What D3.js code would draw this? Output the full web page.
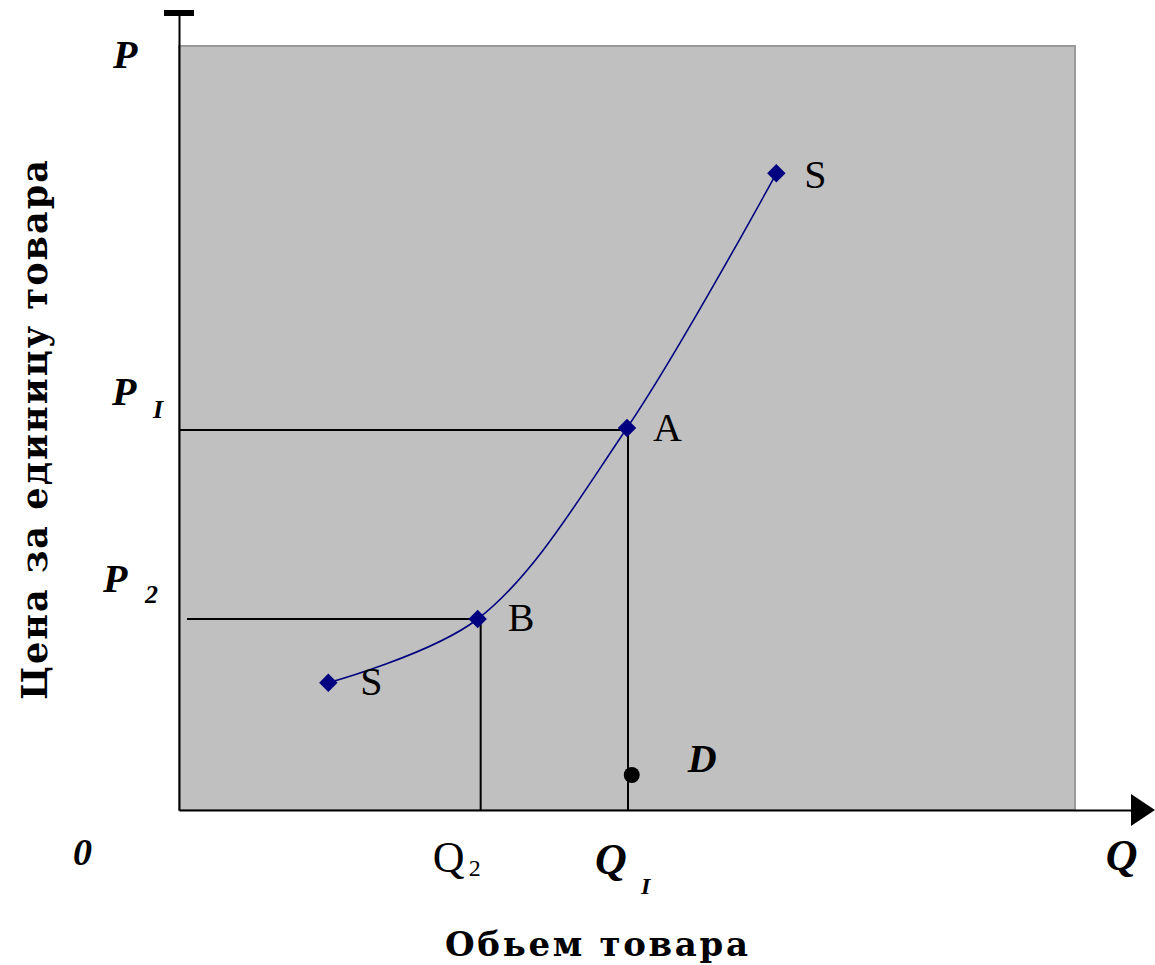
<!DOCTYPE html>
<html><head><meta charset="utf-8">
<script src="https://cdn.jsdelivr.net/npm/d3@7"></script>
<style>html,body{margin:0;padding:0;background:#fff;}svg{display:block;}</style>
</head><body>
<script>
// ---- data ----
const supplyQ = [2, 4, 6, 8];
const supplyP = [2, 3, 6, 10];
const supplyLabels = ["S", "B", "A", "S"];
const demandQ = [6.05];
const demandP = [0.55];
const demandLabels = ["D"];
const guideQ = [4, 6];          // Q2, Q1 guide lines
const guideP = [3, 6];          // P2, P1 guide lines
const yTickValues = [12, 6, 3];
const yTickMain = ["P", "P", "P"];
const yTickSub = ["", "I", "2"];
const xTickValues = [0, 4, 6, 12.6];
const xTickMain = ["0", "Q", "Q", "Q"];
const xTickSub = ["", "2", "I", ""];
const xTitle = "Обьем товара";
const yTitle = "Цена за единицу товара";

const W = 1155, H = 965;
const svg = d3.select("body").append("svg").attr("width", W).attr("height", H)
  .style("background", "#fff");

const x = d3.scaleLinear().domain([0, 12]).range([179, 1075]);
const y = d3.scaleLinear().domain([0, 12]).range([810, 46]);

// plot background
svg.append("rect").attr("x", x(0)).attr("y", y(12))
  .attr("width", x(12) - x(0)).attr("height", y(0) - y(12))
  .attr("fill", "#c0c0c0").attr("stroke", "#9a9a9a").attr("stroke-width", 2);

// guide lines
const gl = svg.append("g").attr("stroke", "#000").attr("stroke-width", 2);
gl.append("line").attr("x1", x(0)).attr("x2", x(guideQ[1])).attr("y1", y(guideP[1]) + 2).attr("y2", y(guideP[1]) + 2);
gl.append("line").attr("x1", x(0) + 8).attr("x2", x(guideQ[0])).attr("y1", y(guideP[0])).attr("y2", y(guideP[0]));
gl.append("line").attr("x1", x(guideQ[0]) + 3).attr("x2", x(guideQ[0]) + 3).attr("y1", y(guideP[0])).attr("y2", y(0));
gl.append("line").attr("x1", x(guideQ[1]) + 1).attr("x2", x(guideQ[1]) + 1).attr("y1", y(guideP[1])).attr("y2", y(0));

// axes
const yAxisScale = d3.scaleLinear().domain([0, y.invert(13)]).range([y(0), 13]);
svg.append("g").attr("transform", `translate(${x(0)},0)`)
  .call(d3.axisLeft(yAxisScale).tickValues([]).tickSizeOuter(0))
  .call(g => g.select(".domain").attr("stroke", "#000").attr("stroke-width", 2));
svg.append("rect").attr("x", x(0) - 15).attr("y", 10).attr("width", 30).attr("height", 6).attr("fill", "#000");

const xAxisScale = d3.scaleLinear().domain([0, x.invert(1135)]).range([x(0), 1135]);
svg.append("g").attr("transform", `translate(0,${y(0)})`)
  .call(d3.axisBottom(xAxisScale).tickValues([]).tickSizeOuter(0))
  .call(g => g.select(".domain").attr("stroke", "#000").attr("stroke-width", 2));
svg.append("path").attr("d", `M1131,794 L1155,810 L1131,826 Z`).attr("fill", "#000");

// supply curve
const pts = supplyQ.map((q, i) => [x(q), y(supplyP[i])]);
svg.append("path").attr("d", d3.line().curve(d3.curveCatmullRom.alpha(0.5))(pts))
  .attr("fill", "none").attr("stroke", "#000080").attr("stroke-width", 1.6);
svg.selectAll(".mk").data(pts).enter().append("path")
  .attr("d", d3.symbol(d3.symbolSquare, 170)())
  .attr("transform", d => `translate(${d[0]},${d[1]}) rotate(45)`)
  .attr("fill", "#000080");

const serif = "'Liberation Serif', 'Times New Roman', serif";
const lblOff = [[32, 12], [30, 12], [26, 13], [28, 15]];
svg.selectAll(".sl").data(pts).enter().append("text")
  .attr("x", (d, i) => d[0] + lblOff[i][0]).attr("y", (d, i) => d[1] + lblOff[i][1])
  .attr("font-family", serif).attr("font-size", 40)
  .text((d, i) => supplyLabels[i]);

// demand point
svg.selectAll(".dp").data(demandQ).enter().append("circle")
  .attr("cx", d => x(d) + 1).attr("cy", (d, i) => y(demandP[i])).attr("r", 8).attr("fill", "#000");
svg.selectAll(".dl").data(demandQ).enter().append("text")
  .attr("x", d => x(d) + 57).attr("y", (d, i) => y(demandP[i]) - 3)
  .attr("font-family", serif).attr("font-size", 40).attr("font-weight", "bold").attr("font-style", "italic")
  .text((d, i) => demandLabels[i]);

// y tick labels
const yOff = [[-66, 22, 0, 0], [-67, -23, 41, 13], [-76, -27, 42, 11]];
yTickValues.forEach((v, i) => {
  svg.append("text").attr("x", x(0) + yOff[i][0]).attr("y", y(v) + yOff[i][1])
    .attr("font-family", serif).attr("font-size", 40).attr("font-weight", "bold").attr("font-style", "italic")
    .text(yTickMain[i]);
  if (yTickSub[i]) {
    svg.append("text").attr("x", x(0) + yOff[i][0] + yOff[i][2]).attr("y", y(v) + yOff[i][1] + yOff[i][3])
      .attr("font-family", serif).attr("font-size", 26).attr("font-weight", "bold").attr("font-style", "italic")
      .text(yTickSub[i]);
  }
});

// x tick labels
const xStyle = [
  {dx: -106, dy: 55, italic: true, bold: true, subdx: 0, subdy: 0, subsize: 22, size: 38},
  {dx: -45, dy: 62, italic: false, bold: false, subdx: 36, subdy: 4, subsize: 24, size: 44},
  {dx: -32, dy: 64, italic: true, bold: true, subdx: 46, subdy: 20, subsize: 24, size: 44},
  {dx: -14, dy: 60, italic: true, bold: true, subdx: 0, subdy: 0, subsize: 22, size: 44}
];
xTickValues.forEach((v, i) => {
  const s = xStyle[i];
  svg.append("text").attr("x", x(v) + s.dx).attr("y", y(0) + s.dy)
    .attr("font-family", serif).attr("font-size", s.size)
    .attr("font-weight", s.bold ? "bold" : "normal").attr("font-style", s.italic ? "italic" : "normal")
    .text(xTickMain[i]);
  if (xTickSub[i]) {
    svg.append("text").attr("x", x(v) + s.dx + s.subdx).attr("y", y(0) + s.dy + s.subdy)
      .attr("font-family", serif).attr("font-size", s.subsize)
      .attr("font-weight", s.bold ? "bold" : "normal").attr("font-style", s.italic ? "italic" : "normal")
      .text(xTickSub[i]);
  }
});

// axis titles
const titleFont = "'DejaVu Serif', serif";
svg.append("text").attr("x", 445).attr("y", 956)
  .attr("font-family", titleFont).attr("font-size", 34).attr("font-weight", "bold")
  .attr("textLength", 303).attr("lengthAdjust", "spacing")
  .text(xTitle);
svg.append("text").attr("transform", "translate(47,700) rotate(-90)")
  .attr("font-family", titleFont).attr("font-size", 35).attr("font-weight", "bold")
  .attr("textLength", 540).attr("lengthAdjust", "spacing")
  .text(yTitle);
</script>
</body></html>
